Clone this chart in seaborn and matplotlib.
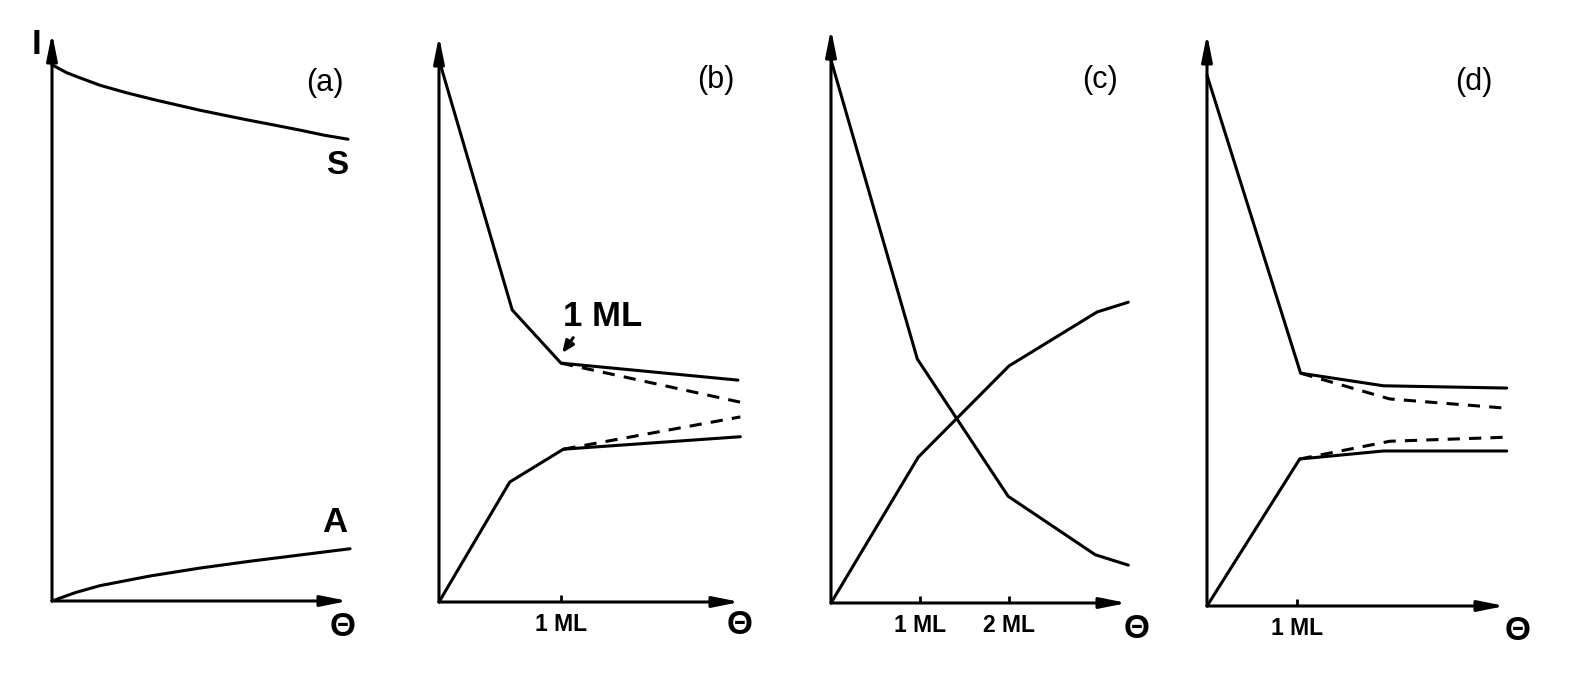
import numpy as np
import seaborn as sns
import matplotlib.pyplot as plt

# Panel (a): smooth S (substrate) and A (adsorbate) curves, theta in arbitrary units
a_theta = [0, 0.05, 0.1, 0.162, 0.25, 0.35, 0.5, 0.65, 0.75, 0.838, 0.92, 1.0]
a_S = [0.944, 0.930, 0.920, 0.908, 0.895, 0.882, 0.864, 0.848, 0.838, 0.829, 0.820, 0.813]
a_theta_A = [0, 0.08, 0.162, 0.331, 0.5, 0.669, 0.838, 1.007]
a_A = [0, 0.015, 0.027, 0.044, 0.058, 0.070, 0.081, 0.092]

# Panel (b): theta in ML
b_theta_S = [0, 0.60, 1.0, 2.45]
b_S = [0.958, 0.516, 0.422, 0.392]
b_theta_Sd = [1.0, 2.47]
b_Sd = [0.422, 0.353]
b_theta_A = [0, 0.58, 1.02, 2.47]
b_A = [0, 0.212, 0.270, 0.292]
b_theta_Ad = [1.02, 2.47]
b_Ad = [0.270, 0.327]

# Panel (c)
c_theta_S = [0, 0.97, 1.99, 2.97, 3.34]
c_S = [0.946, 0.425, 0.186, 0.084, 0.066]
c_theta_A = [0, 0.98, 2.0, 2.99, 3.34]
c_A = [0, 0.254, 0.413, 0.507, 0.524]

# Panel (d)
d_theta_S = [0, 1.04, 1.96, 3.33]
d_S = [0.928, 0.407, 0.385, 0.381]
d_theta_Sd = [1.04, 2.03, 3.31]
d_Sd = [0.407, 0.362, 0.346]
d_theta_A = [0, 1.03, 1.96, 3.33]
d_A = [0, 0.257, 0.271, 0.271]
d_theta_Ad = [1.03, 2.03, 3.31]
d_Ad = [0.257, 0.288, 0.295]

sns.set_style("white")
plt.rcParams['font.family'] = ['Liberation Sans', 'DejaVu Sans']
plt.rcParams['text.color'] = 'black'
plt.rcParams['xtick.color'] = 'black'
plt.rcParams['xtick.labelcolor'] = 'black'

W, H = 1572, 699
fig = plt.figure(figsize=(W / 100, H / 100), dpi=100)


def rect(left, bottom, right, top):
    return [left / W, 1 - bottom / H, (right - left) / W, (bottom - top) / H]


def ftext(x, y, s, **kw):
    fig.text(x / W, 1 - y / H, s, ha='center', va='center', color='black', **kw)


def setup(ax, xmax, ticks, labels):
    ax.set_xlim(0, xmax)
    ax.set_ylim(0, 1)
    for sp in ax.spines.values():
        sp.set_visible(False)
    ax.set_yticks([])
    ax.set_xticks(ticks)
    ax.set_xticklabels(labels, fontsize=16.5, fontweight='bold', color='black')
    ax.tick_params(axis='x', direction='in', length=5, width=2, pad=8, bottom=True,
                   color='black')
    ax.set_xlabel('')
    ax.set_ylabel('')
    head = '-|>,head_length=1.0,head_width=0.2'
    for end in [(1, 0), (0, 1)]:
        ax.annotate('', xy=end, xytext=(0, 0), xycoords='axes fraction',
                    arrowprops=dict(arrowstyle=head, lw=2.2, color='black',
                                    shrinkA=0, shrinkB=0, mutation_scale=16),
                    annotation_clip=False)


def draw(ax, x, y, dashed=False):
    kw = dict(color='black', lw=2.2, estimator=None, sort=False, ax=ax)
    if dashed:
        kw['linestyle'] = (0, (4, 3))
    line = sns.lineplot(x=x, y=y, **kw)
    for l in line.lines:
        l.set_clip_on(False)
        l.set_solid_joinstyle('round')


# (a)
ax = fig.add_axes(rect(52, 601, 348, 33))
draw(ax, a_theta, a_S)
draw(ax, a_theta_A, a_A)
setup(ax, 1.0, [], [])

# (b)
ax = fig.add_axes(rect(439, 602, 740, 36))
draw(ax, b_theta_S, b_S)
draw(ax, b_theta_Sd, b_Sd, dashed=True)
draw(ax, b_theta_A, b_A)
draw(ax, b_theta_Ad, b_Ad, dashed=True)
setup(ax, 301 / 122, [1], ['1 ML'])
ax.text(1.344, 0.505, '1 ML', ha='center', va='center', fontsize=25,
        fontweight='bold', color='black')
ax.annotate('', xy=(1.01, 0.44), xytext=(1.10, 0.467),
            arrowprops=dict(arrowstyle='-|>,head_length=0.7,head_width=0.3', lw=2.2,
                            color='black', shrinkA=0, shrinkB=0, mutation_scale=10))

# (c)
ax = fig.add_axes(rect(831, 603, 1127, 29))
draw(ax, c_theta_S, c_S)
draw(ax, c_theta_A, c_A)
setup(ax, 296 / 89, [1, 2], ['1 ML', '2 ML'])

# (d)
ax = fig.add_axes(rect(1207, 606, 1505, 34))
draw(ax, d_theta_S, d_S)
draw(ax, d_theta_Sd, d_Sd, dashed=True)
draw(ax, d_theta_A, d_A)
draw(ax, d_theta_Ad, d_Ad, dashed=True)
setup(ax, 298 / 90, [1], ['1 ML'])

# labels
ftext(37, 45, 'I', fontsize=25, fontweight='bold')
ftext(337, 165, 'S', fontsize=24, fontweight='bold')
ftext(335, 523, 'A', fontsize=25, fontweight='bold')
for x, y, s in [(325, 83, '(a)'), (716, 80, '(b)'), (1100, 80, '(c)'), (1474, 82, '(d)')]:
    ftext(x, y, s, fontsize=22)
for x, y in [(343, 627), (740, 625), (1137, 629), (1518, 632)]:
    ftext(x, y, 'Θ', fontsize=24, fontweight='bold')

fig.savefig('out.png', dpi=100)
